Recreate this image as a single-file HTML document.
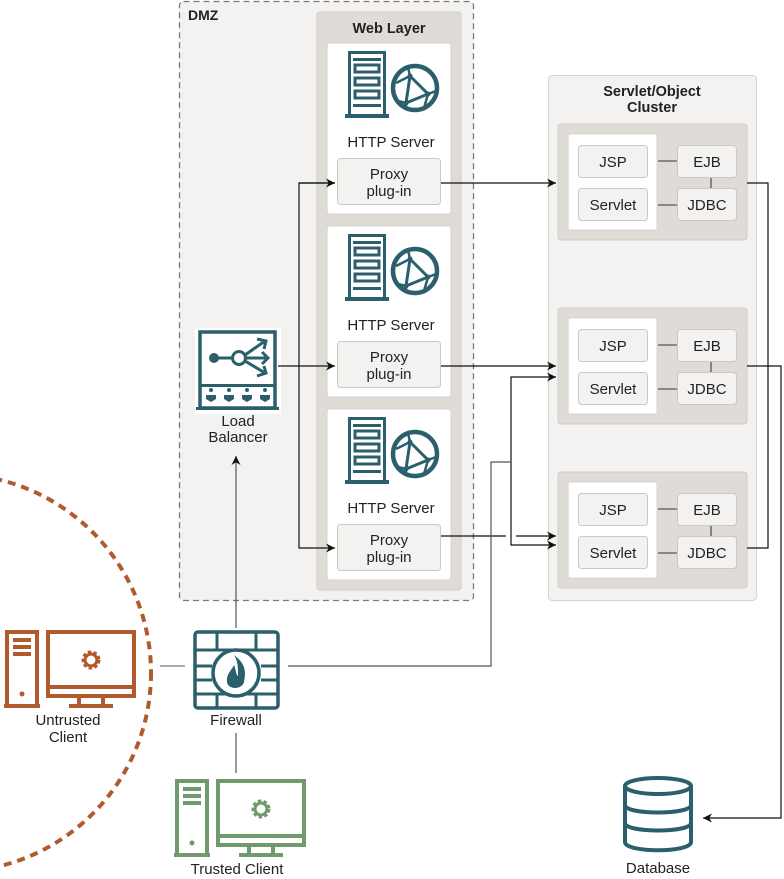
<!DOCTYPE html>
<html><head><meta charset="utf-8"><style>
html,body{margin:0;padding:0;background:#fff}
svg{display:block}
text{font-family:"Liberation Sans",sans-serif;fill:#222}
</style></head><body>
<svg width="784" height="879" viewBox="0 0 784 879" xmlns="http://www.w3.org/2000/svg">
<defs>
<marker id="a" viewBox="0 0 10 10" refX="10" refY="5" markerWidth="9" markerHeight="9" markerUnits="userSpaceOnUse" orient="auto"><path d="M0,0 L10,5 L0,10 L3,5 z" fill="#111"/></marker>
<g id="srv">
 <rect x="1.5" y="1.5" width="35" height="64" fill="none" stroke="#2a5f6b" stroke-width="3"/>
 <rect x="5" y="7" width="28" height="3" fill="#2a5f6b"/>
 <rect x="7" y="14" width="24" height="7" fill="none" stroke="#2a5f6b" stroke-width="3"/>
 <rect x="7" y="27" width="24" height="7" fill="none" stroke="#2a5f6b" stroke-width="3"/>
 <rect x="7" y="40" width="24" height="7" fill="none" stroke="#2a5f6b" stroke-width="3"/>
 <rect x="5" y="53" width="28" height="3" fill="#2a5f6b"/>
 <rect x="-3" y="63" width="44" height="4" fill="#2a5f6b"/>
 <circle cx="67" cy="37" r="22" fill="none" stroke="#2a5f6b" stroke-width="4.5"/>
 <path d="M62,25 L80,43 L58,52 Z" fill="none" stroke="#2a5f6b" stroke-width="3"/>
 <path d="M62,25 L60,16 M62,25 L48,32 M80,43 L88,40 M80,43 L76,57 M58,52 L50,50 M58,52 L58,58" fill="none" stroke="#2a5f6b" stroke-width="2.5"/>
 <circle cx="62" cy="25" r="2.5" fill="#2a5f6b"/><circle cx="80" cy="43" r="2.5" fill="#2a5f6b"/><circle cx="58" cy="52" r="2.5" fill="#2a5f6b"/>
</g>
<g id="pc">
 <rect x="2" y="2" width="30" height="74" fill="none" stroke="currentColor" stroke-width="4"/>
 <rect x="8" y="8" width="18" height="4" fill="currentColor"/>
 <rect x="8" y="15" width="18" height="4" fill="currentColor"/>
 <rect x="8" y="22" width="18" height="4" fill="currentColor"/>
 <circle cx="17" cy="64" r="2.5" fill="currentColor"/>
 <rect x="-1" y="74" width="36" height="4" fill="currentColor"/>
 <rect x="43" y="2" width="86" height="64" fill="none" stroke="currentColor" stroke-width="4"/>
 <rect x="43" y="55" width="86" height="4" fill="currentColor"/>
 <rect x="72" y="66" width="4" height="9" fill="currentColor"/><rect x="96" y="66" width="4" height="9" fill="currentColor"/>
 <rect x="64" y="74" width="44" height="4" fill="currentColor"/>
 <circle cx="86" cy="30" r="7" fill="none" stroke="currentColor" stroke-width="5" stroke-dasharray="3 2"/>
 <circle cx="86" cy="30" r="6" fill="none" stroke="currentColor" stroke-width="3"/>
</g>
</defs>

<!-- DMZ -->
<rect x="179.5" y="1.5" width="294" height="599" rx="4" fill="#f3f2f0" stroke="#7a7a7a" stroke-width="1.3" stroke-dasharray="6 4"/>
<text x="188" y="20" font-size="14" font-weight="bold" fill="#333">DMZ</text>
<rect x="317" y="12" width="144" height="578" rx="3" fill="#dfdcd8" stroke="#d0ccc7"/>
<text x="389" y="33" font-size="14.5" font-weight="bold" text-anchor="middle" fill="#333">Web Layer</text>

<g id="web">
<rect x="327" y="43" width="124" height="171" rx="3" fill="#fff" stroke="#d6d3cf"/>
<use href="#srv" x="348" y="51"/>
<text x="391" y="147" font-size="15" text-anchor="middle">HTTP Server</text>
<rect x="337.5" y="158.5" width="103" height="46" rx="3" fill="#f3f2f0" stroke="#ccc8c3"/>
<text x="389" y="179" font-size="15" text-anchor="middle" fill="#444">Proxy</text>
<text x="389" y="196" font-size="15" text-anchor="middle" fill="#444">plug-in</text>
</g>
<use href="#web" y="183"/>
<use href="#web" y="366"/>

<!-- Load balancer -->
<rect x="195" y="328" width="86" height="86" fill="#fff"/>
<rect x="200" y="332" width="75" height="76" fill="none" stroke="#2a5f6b" stroke-width="3.5"/>
<rect x="200" y="384" width="75" height="3" fill="#2a5f6b"/>
<rect x="196" y="407" width="83" height="3" fill="#2a5f6b"/>
<circle cx="214" cy="358" r="5" fill="#2a5f6b"/>
<line x1="214" y1="358" x2="232" y2="358" stroke="#2a5f6b" stroke-width="3"/>
<circle cx="239" cy="358" r="6.5" fill="#fff" stroke="#2a5f6b" stroke-width="3"/>
<path d="M245,355 L265,341 M245,358 L268,358 M245,361 L265,373 M257,339 L266,341 L264,349 M262,352 L268,358 L262,364 M257,376 L266,373 L264,366" fill="none" stroke="#2a5f6b" stroke-width="3"/>
<g fill="#2a5f6b"><circle cx="211" cy="390" r="2"/><circle cx="229" cy="390" r="2"/><circle cx="247" cy="390" r="2"/><circle cx="265" cy="390" r="2"/>
<path d="M206,395h10v4l-5,3l-5,-3z M224,395h10v4l-5,3l-5,-3z M242,395h10v4l-5,3l-5,-3z M260,395h10v4l-5,3l-5,-3z"/></g>
<text x="238" y="426" font-size="15" text-anchor="middle">Load</text>
<text x="238" y="442" font-size="15" text-anchor="middle">Balancer</text>

<!-- Cluster -->
<rect x="548.5" y="75.5" width="208" height="525" rx="4" fill="#f3f2f0" stroke="#d6d3cf"/>
<text x="652" y="96" font-size="14.5" font-weight="bold" text-anchor="middle" fill="#333">Servlet/Object</text>
<text x="652" y="112" font-size="14.5" font-weight="bold" text-anchor="middle" fill="#333">Cluster</text>
<g id="cl">
<rect x="558" y="124" width="189" height="116" rx="3" fill="#dfdcd8" stroke="#d0ccc7"/>
<rect x="568" y="134" width="89" height="96" rx="2" fill="#fff" stroke="#d6d3cf"/>
<rect x="578.5" y="145.5" width="69" height="32" rx="3" fill="#f3f2f0" stroke="#ccc8c3"/>
<rect x="578.5" y="188.5" width="69" height="32" rx="3" fill="#f3f2f0" stroke="#ccc8c3"/>
<rect x="677.5" y="145.5" width="59" height="32" rx="3" fill="#f3f2f0" stroke="#ccc8c3"/>
<rect x="677.5" y="188.5" width="59" height="32" rx="3" fill="#f3f2f0" stroke="#ccc8c3"/>
<text x="613" y="167" font-size="15" text-anchor="middle" fill="#444">JSP</text>
<text x="613" y="210" font-size="15" text-anchor="middle" fill="#444">Servlet</text>
<text x="707" y="167" font-size="15" text-anchor="middle" fill="#444">EJB</text>
<text x="707" y="210" font-size="15" text-anchor="middle" fill="#444">JDBC</text>
<line x1="658" y1="161" x2="677" y2="161" stroke="#555" stroke-width="1.3"/>
<line x1="658" y1="205" x2="677" y2="205" stroke="#555" stroke-width="1.3"/>
<line x1="711" y1="178" x2="711" y2="188" stroke="#555" stroke-width="1.3"/>
</g>
<use href="#cl" y="184"/>
<use href="#cl" y="348"/>

<!-- Connectors -->
<g fill="none" stroke="#111" stroke-width="1.2">
<path d="M335,183 H299 V548 H335" marker-end="url(#a)"/>
<path d="M299,183 H335" marker-end="url(#a)"/>
<path d="M278,366 H335" marker-end="url(#a)"/>
<path d="M441,183 H556" marker-end="url(#a)"/>
<path d="M441,366 H556" marker-end="url(#a)"/>
<path d="M441,536 H506 M516,536 H556" marker-end="url(#a)"/>
<path d="M511,462 V377 H556" marker-end="url(#a)"/>
<path d="M511,462 V545 H556" marker-end="url(#a)"/>
<path d="M288,666 H491 V462 H511" stroke="#555"/>
<path d="M236,628 V456" stroke="#555" marker-end="url(#a)"/>
<path d="M747,183 H768 V548 H747"/>
<path d="M747,366 H781 V818 H703" marker-end="url(#a)"/>
<line x1="160" y1="666" x2="185" y2="666" stroke="#777"/>
<line x1="236" y1="733" x2="236" y2="773" stroke="#555"/>
</g>

<!-- Firewall -->
<rect x="195" y="632" width="83" height="76" rx="3" fill="none" stroke="#2a5f6b" stroke-width="3.5"/>
<g stroke="#2a5f6b" stroke-width="3">
<line x1="195" y1="650" x2="278" y2="650"/><line x1="195" y1="666" x2="212" y2="666"/><line x1="261" y1="666" x2="278" y2="666"/>
<line x1="195" y1="680" x2="212" y2="680"/><line x1="261" y1="680" x2="278" y2="680"/><line x1="195" y1="694" x2="278" y2="694"/>
<line x1="217" y1="632" x2="217" y2="650"/><line x1="256" y1="632" x2="256" y2="650"/>
<line x1="217" y1="694" x2="217" y2="708"/><line x1="256" y1="694" x2="256" y2="708"/>
</g>
<circle cx="236" cy="673" r="23" fill="#fff" stroke="#2a5f6b" stroke-width="3.5"/>
<path d="M234,655 C246,664 246,672 244,682 C242,690 228,690 227,682 C226,674 232,670 234,665 C236,670 236,675 238,676 C238,668 238,661 234,655Z" fill="#2a5f6b"/>
<text x="236" y="725" font-size="15" text-anchor="middle">Firewall</text>

<!-- Clients -->
<g style="color:#b05a2e" transform="translate(5,630)"><use href="#pc"/></g>
<text x="68" y="725" font-size="15" text-anchor="middle">Untrusted</text>
<text x="68" y="742" font-size="15" text-anchor="middle">Client</text>
<g style="color:#6f9a6b" transform="translate(175,779)"><use href="#pc"/></g>
<text x="237" y="874" font-size="15" text-anchor="middle">Trusted Client</text>

<circle cx="-48" cy="673" r="199" fill="none" stroke="#b05a2e" stroke-width="4" stroke-dasharray="8 6"/>

<!-- Database -->
<g fill="none" stroke="#2a5f6b" stroke-width="4">
<ellipse cx="658" cy="786" rx="33" ry="8"/>
<path d="M625,786 V842 C625,853 691,853 691,842 V786"/>
<path d="M625,805 C625,815 691,815 691,805"/>
<path d="M625,823 C625,833 691,833 691,823"/>
</g>
<text x="658" y="873" font-size="15" text-anchor="middle">Database</text>
</svg>
</body></html>
